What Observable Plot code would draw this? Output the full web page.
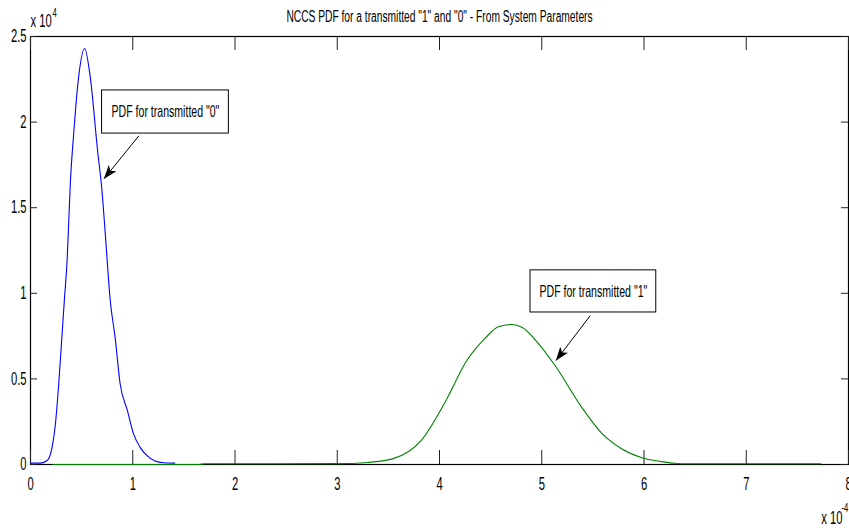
<!DOCTYPE html>
<html>
<head>
<meta charset="utf-8">
<script src="https://cdn.jsdelivr.net/npm/d3@7"></script>
<script src="https://cdn.jsdelivr.net/npm/@observablehq/plot@0.6"></script>
<style>
  html, body { margin: 0; padding: 0; background: #fff; }
</style>
</head>
<body>
<div id="chart"></div>
<script>
// ---- data (x in units of 1e-4, y in units of 1e4, as on the axes) ----
const title = 'NCCS PDF for a transmitted "1" and "0" - From System Parameters';
const xTicks = [0, 1, 2, 3, 4, 5, 6, 7, 8];
const yTicks = [0, 0.5, 1, 1.5, 2, 2.5];

const pdf0X = [0, 0.097, 0.163, 0.211, 0.244, 0.276, 0.309, 0.331, 0.358, 0.39, 0.422, 0.47, 0.53, 0.585, 0.656, 0.699, 0.731, 0.78, 0.828, 0.877, 0.948, 1.007, 1.072, 1.137, 1.218, 1.3, 1.41];
const pdf0Y = [0.008, 0.008, 0.023, 0.10, 0.238, 0.47, 0.763, 0.958, 1.19, 1.65, 1.93, 2.26, 2.43, 2.26, 1.834, 1.60, 1.35, 0.958, 0.74, 0.47, 0.315, 0.18, 0.10, 0.053, 0.02, 0.01, 0.008];

const pdf1X = [0.22, 1.65, 1.7, 3.0, 3.3, 3.54, 3.82, 4.06, 4.27, 4.45, 4.58, 4.71, 4.81, 4.97, 5.13, 5.39, 5.59, 5.78, 5.98, 6.17, 6.3, 6.4, 7.73];
const pdf1Y = [0, 0, 0.004, 0.005, 0.012, 0.033, 0.14, 0.37, 0.61, 0.74, 0.806, 0.818, 0.80, 0.705, 0.578, 0.335, 0.18, 0.092, 0.039, 0.017, 0.007, 0.004, 0.004];

const annText = ['PDF for transmitted "0"', 'PDF for transmitted "1"'];
const annBoxX1 = [0.70, 4.89];
const annBoxX2 = [1.94, 6.12];
const annBoxY1 = [1.933, 0.888];
const annBoxY2 = [2.185, 1.134];
const annArrowX1 = [1.06, 5.475];
const annArrowY1 = [1.92, 0.87];
const annArrowX2 = [0.72, 5.14];
const annArrowY2 = [1.67, 0.608];

// ---- layout ----
const W = 849, H = 528, mL = 30, mR = 1, mT = 36, mB = 64;
const innerH = H - mT - mB;
const innerW = W - mL - mR;
const FONT = "'Liberation Sans', Arial, sans-serif";
const SX = 0.64; // horizontal squeeze of the narrow font

const i0 = d3.range(pdf0X.length);
const i1 = d3.range(pdf1X.length);
const ia = d3.range(annText.length);

const chart = Plot.plot({
  width: W, height: H,
  marginLeft: mL, marginRight: mR, marginTop: mT, marginBottom: mB,
  x: {domain: [0, 8]},
  y: {domain: [0, 2.5]},
  style: {fontFamily: FONT, fontSize: "17.5px", background: "#fff", color: "#000", overflow: "visible"},
  marks: [
    Plot.frame({stroke: "#000", strokeWidth: 1.2}),
    // inward ticks, all four sides
    Plot.ruleX(xTicks, {x: d => d, stroke: "#222", strokeWidth: 1, insetTop: innerH - 14}),
    Plot.ruleX(xTicks, {x: d => d, stroke: "#222", strokeWidth: 1, insetBottom: innerH - 14}),
    Plot.ruleY(yTicks, {y: d => d, stroke: "#222", strokeWidth: 1, insetRight: innerW - 7}),
    Plot.ruleY(yTicks, {y: d => d, stroke: "#222", strokeWidth: 1, insetLeft: innerW - 7}),
    Plot.axisX({ticks: xTicks, tickSize: 0, tickPadding: 13, label: null, tickFormat: d => String(d)}),
    Plot.axisY({ticks: yTicks, tickSize: 0, tickPadding: 4, label: null, tickFormat: d => String(d)}),
    // curves
    Plot.line(i1, {x: i => pdf1X[i], y: i => pdf1Y[i], stroke: "#008000", strokeWidth: 1.1, curve: "monotone-x"}),
    Plot.line(i0, {x: i => pdf0X[i], y: i => pdf0Y[i], stroke: "#0000ff", strokeWidth: 1.1, curve: "monotone-x"}),
    // annotations
    Plot.rect(ia, {x1: i => annBoxX1[i], x2: i => annBoxX2[i], y1: i => annBoxY1[i], y2: i => annBoxY2[i], fill: "#fff", stroke: "#000", strokeWidth: 1}),
    Plot.text(ia, {x: i => (annBoxX1[i] + annBoxX2[i]) / 2, y: i => (annBoxY1[i] + annBoxY2[i]) / 2, text: i => annText[i], fontSize: 16.5, fill: "#000"}),
    Plot.link(ia, {x1: i => annArrowX1[i], y1: i => annArrowY1[i], x2: i => annArrowX2[i], y2: i => annArrowY2[i], stroke: "#000", strokeWidth: 1}),
    // title and exponent labels
    Plot.text([title], {frameAnchor: "top", dy: -26, fontSize: 16, fill: "#000"}),
    Plot.text(["x 10"], {frameAnchor: "top-left", textAnchor: "start", dy: -22, dx: 0, fontSize: 17.5, fill: "#000"}),
    Plot.text(["4"], {frameAnchor: "top-left", textAnchor: "start", dy: -28, dx: 22, fontSize: 12, fill: "#000"}),
    Plot.text(["x 10"], {frameAnchor: "bottom-right", textAnchor: "start", dy: 59, dx: -27.3, fontSize: 17.5, fill: "#000"}),
    Plot.text(["-4"], {frameAnchor: "bottom-right", textAnchor: "start", dy: 47, dx: -7, fontSize: 12, fill: "#000"})
  ]
});

// squeeze all text horizontally (narrow MATLAB-like font); keep Plot's own positioning
chart.querySelectorAll("text").forEach(t => {
  const tr = t.getAttribute("transform") || "";
  t.setAttribute("transform", (tr + ` scale(${SX},1)`).trim());
});

// filled MATLAB-style arrow heads on annotation links
const svg = d3.select(chart);
const defs = svg.insert("defs", ":first-child");
defs.append("marker")
  .attr("id", "annhead")
  .attr("markerUnits", "userSpaceOnUse")
  .attr("viewBox", "0 0 14 10")
  .attr("markerWidth", 14).attr("markerHeight", 10)
  .attr("refX", 13.5).attr("refY", 5)
  .attr("orient", "auto")
  .append("path").attr("d", "M0,0 L14,5 L0,10 L3.5,5 Z").attr("fill", "#000");
svg.selectAll("g[aria-label=link] path").attr("marker-end", "url(#annhead)");

document.getElementById("chart").appendChild(chart);
</script>
</body>
</html>
